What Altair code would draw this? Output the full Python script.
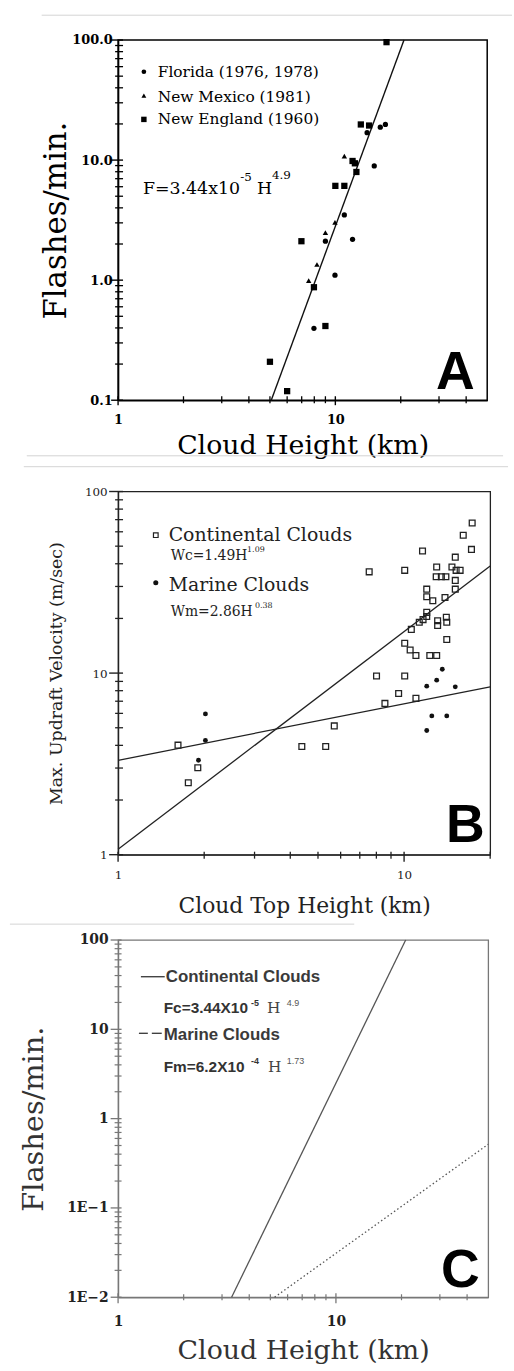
import altair as alt
import pandas as pd

# ---------------- Panel A data (Flashes/min vs cloud height) ----------------
fl_h = [17.0, 16.1, 14.0, 15.1, 11.0, 12.0, 9.0, 9.96, 7.97]
fl_f = [19.8, 18.8, 16.9, 8.94, 3.49, 2.19, 2.11, 1.10, 0.397]
nm_h = [11.0, 9.96, 9.0, 8.23, 7.54]
nm_f = [10.8, 3.03, 2.49, 1.35, 0.99]
ne_h = [17.2, 13.1, 14.3, 12.0, 12.3, 12.5, 10.0, 11.0, 6.98, 7.97, 9.0, 5.0, 6.0]
ne_f = [96.0, 19.8, 19.4, 9.83, 9.4, 7.96, 6.1, 6.1, 2.11, 0.873, 0.415, 0.209, 0.119]
fitA_h = [5.07, 20.7]
fitA_f = [0.1, 100.0]
seriesA = ["Florida (1976, 1978)", "New Mexico (1981)", "New England (1960)"]

# ---------------- Panel B data (updraft velocity vs cloud top height) -------
cont_h = [17.3, 16.1, 17.2, 11.6, 15.1, 13.0, 14.7, 15.2, 15.7, 7.55, 10.05, 12.95,
          13.5, 14.0, 15.1, 12.0, 15.1, 12.0, 12.6, 13.9, 12.0, 12.0, 11.65, 11.3,
          10.6, 13.1, 13.1, 14.05, 14.1, 14.1, 10.05, 10.5, 11.0, 12.3, 13.0, 8.01,
          10.05, 9.57, 11.0, 8.57, 5.70, 4.39, 5.32, 1.62, 1.90, 1.76]
cont_w = [67.1, 57.4, 48.0, 47.0, 43.5, 38.4, 38.4, 36.8, 36.8, 36.1, 36.8, 33.9,
          33.9, 33.9, 32.4, 29.0, 29.0, 26.3, 25.0, 26.1, 21.6, 20.5, 19.7, 19.05,
          17.4, 19.4, 18.3, 20.3, 19.05, 15.3, 14.6, 13.4, 12.5, 12.5, 12.5, 9.64,
          9.64, 7.72, 7.26, 6.81, 5.12, 3.94, 3.94, 4.01, 3.01, 2.49]
mar_h = [2.02, 2.02, 1.91, 13.6, 13.0, 12.0, 15.1, 12.5, 14.1, 12.0]
mar_w = [5.96, 4.26, 3.31, 10.5, 9.14, 8.47, 8.40, 5.81, 5.81, 4.83]
fitBc_h = [1.0, 20.0]
fitBc_w = [1.07, 38.9]
fitBm_h = [1.0, 20.0]
fitBm_w = [3.31, 8.4]

# ---------------- Panel C data (fitted relations) ---------------------------
fitCc_h = [3.32, 20.9]
fitCc_f = [0.01, 100.0]
fitCm_h = [5.23, 50.0]
fitCm_f = [0.01, 0.516]

SERIF = "DejaVu Serif"
SANS = "Liberation Sans"
one = pd.DataFrame({"k": [0]})


def df(h, v):
    return pd.DataFrame({"h": h, "v": v})


def log_ticks(decades, top=None, minor_only=False):
    out = []
    for d in decades:
        for m in range(1, 10):
            if minor_only and m == 1:
                continue
            out.append(float(round(m * 10 ** d, 10)))
    if top is not None and not minor_only:
        out.append(float(top))
    return out


def label_expr(mapping):
    parts = ""
    for k, s in mapping.items():
        parts += f"datum.value == {k} ? '{s}' : "
    return parts + "''"


def txt(s, x, y, size, font=SERIF, color="black", weight="normal",
        align="left", baseline="alphabetic"):
    return alt.Chart(one).mark_text(
        text=s, align=align, baseline=baseline, font=font, fontSize=size,
        fontWeight=weight, color=color
    ).encode(x=alt.value(x), y=alt.value(y))


def hrule(x1, x2, y, color="#d4d4d4", width=1.0):
    return alt.Chart(one).mark_rule(color=color, strokeWidth=width).encode(
        x=alt.value(x1), x2=alt.value(x2), y=alt.value(y))


def sym(shape, x, y, size, color="black", filled=True, sw=1.2):
    return alt.Chart(one).mark_point(
        shape=shape, filled=filled, size=size, color=color, opacity=1,
        strokeWidth=sw
    ).encode(x=alt.value(x), y=alt.value(y))


def yticks(vals, ydef, xc, length, color, width):
    return alt.Chart(pd.DataFrame({"v": [float(v) for v in vals]})).mark_tick(
        orient="horizontal", size=length, thickness=width, color=color, opacity=1
    ).encode(y=ydef, x=alt.value(xc))


def xticks(vals, xdef, y1, y2, color, width):
    return alt.Chart(pd.DataFrame({"h": [float(v) for v in vals]})).mark_rule(
        color=color, strokeWidth=width).encode(x=xdef, y=alt.value(y1), y2=alt.value(y2))


# ============================ Panel A ============================
WA, HA = 372, 363
ax_common = dict(grid=False, ticks=False, labelFont=SERIF, titleFont=SERIF,
                 labelColor="black", titleColor="black", domainColor="black",
                 labelOverlap=False, labelFlush=False, titleFontWeight="normal")
xA = alt.X("h:Q", scale=alt.Scale(type="log", domain=[1, 50], nice=False),
           axis=alt.Axis(values=log_ticks([0]) + [10.0, 20.0, 30.0, 40.0, 50.0],
                         labelExpr=label_expr({1: "1", 10: "10"}),
                         title="Cloud Height (km)", titleFontSize=27,
                         titleY=46, titleBaseline="middle",
                         labelFontSize=13, labelFontWeight="bold",
                         labelPadding=13, domainWidth=1.5, **ax_common))
yA = alt.Y("v:Q", scale=alt.Scale(type="log", domain=[0.1, 100], nice=False),
           axis=alt.Axis(values=log_ticks([-1, 0, 1], 100),
                         labelExpr=label_expr({0.1: "0.1", 1: "1.0", 10: "10.0", 100: "100.0"}),
                         title="Flashes/min.", titleFontSize=31,
                         titleX=-62, titleBaseline="middle",
                         labelFontSize=13, labelFontWeight="bold",
                         labelPadding=6, domainWidth=1.5, **ax_common))

lineA = alt.Chart(df(fitA_h, fitA_f)).mark_line(color="#111", strokeWidth=1.4).encode(x=xA, y=yA)
ptsFl = alt.Chart(df(fl_h, fl_f)).mark_point(shape="circle", filled=True, size=28,
                                             color="black", opacity=1).encode(x=xA, y=yA)
ptsNm = alt.Chart(df(nm_h, nm_f)).mark_point(shape="triangle-up", filled=True, size=30,
                                             color="black", opacity=1).encode(x=xA, y=yA)
ptsNe = alt.Chart(df(ne_h, ne_f)).mark_point(shape="square", filled=True, size=40,
                                             color="black", opacity=1).encode(x=xA, y=yA)

panelA = alt.layer(
    hrule(-77, 397, -25), hrule(-92, 388, 419),
    lineA, ptsFl, ptsNm, ptsNe,
    yticks(log_ticks([-1, 0, 1], minor_only=True), yA, 1, 8, "black", 1.3),
    yticks([0.1, 1, 10, 100], yA, -1, 12, "black", 1.4),
    xticks([2, 3, 4, 5, 6, 7, 8, 9, 20, 30, 40], xA, HA - 4, HA + 3, "black", 1.3),
    xticks([1, 10], xA, HA - 4, HA + 5, "black", 1.4),
    sym("circle", 26, 32, 22), sym("triangle-up", 26, 56, 24), sym("square", 26, 80, 30),
    txt(seriesA[0], 40, 37, 15.5), txt(seriesA[1], 40, 62, 15.5), txt(seriesA[2], 40, 85, 15.5),
    txt("F=3.44x10", 25, 155, 17.5), txt("-5", 123, 142, 12),
    txt("H", 140, 155, 17.5), txt("4.9", 155, 140, 12),
    txt("A", 340, 336, 54, font=SANS, weight="bold", align="center", baseline="middle"),
).properties(width=WA, height=HA,
             view=alt.ViewBackground(stroke="black", strokeWidth=1.5))

# ============================ Panel B ============================
WB, HB = 375, 366
axB = dict(grid=False, ticks=False, labelFont=SERIF, titleFont=SERIF,
           labelColor="#222", titleColor="#222", domainColor="#222",
           labelOverlap=False, labelFlush=False, titleFontWeight="normal")
xB = alt.X("h:Q", scale=alt.Scale(type="log", domain=[1, 20], nice=False),
           axis=alt.Axis(values=log_ticks([0]) + [10.0, 20.0],
                         labelExpr=label_expr({1: "1", 10: "10"}),
                         title="Cloud Top Height (km)", titleFontSize=22,
                         titleY=51, titleBaseline="middle",
                         labelFontSize=12, labelPadding=15,
                         domainWidth=1.3, **axB))
yB = alt.Y("v:Q", scale=alt.Scale(type="log", domain=[1, 100], nice=False),
           axis=alt.Axis(values=log_ticks([0, 1], 100),
                         labelExpr=label_expr({1: "1", 10: "10", 100: "100"}),
                         title="Max. Updraft Velocity (m/sec)", titleFontSize=17.5,
                         titleX=-62, titleBaseline="middle",
                         labelFontSize=12, labelPadding=11,
                         domainWidth=1.3, **axB))

lineBc = alt.Chart(df(fitBc_h, fitBc_w)).mark_line(color="#222", strokeWidth=1.3).encode(x=xB, y=yB)
lineBm = alt.Chart(df(fitBm_h, fitBm_w)).mark_line(color="#222", strokeWidth=1.3).encode(x=xB, y=yB)
ptsC = alt.Chart(df(cont_h, cont_w)).mark_point(shape="square", filled=False, size=34,
                                                color="#222", strokeWidth=1.3,
                                                opacity=1).encode(x=xB, y=yB)
ptsM = alt.Chart(df(mar_h, mar_w)).mark_point(shape="circle", filled=True, size=24,
                                              color="#111", opacity=1).encode(x=xB, y=yB)

panelB = alt.layer(
    hrule(-95, 393, -25),
    lineBc, lineBm, ptsC, ptsM,
    yticks(log_ticks([0, 1], minor_only=True), yB, 1, 8, "#222", 1.3),
    yticks([1, 10, 100], yB, -2, 14, "#222", 1.4),
    xticks([2, 3, 4, 5, 6, 7, 8, 9, 20], xB, HB - 3, HB + 4, "#222", 1.3),
    xticks([1, 10], xB, HB - 3, HB + 7, "#222", 1.4),
    sym("square", 38, 44, 22, color="#222", filled=False),
    txt("Continental Clouds", 51, 50, 19, color="#222"),
    txt("Wc=1.49H", 53, 69, 14, color="#222"), txt("1.09", 130, 61, 8, color="#222"),
    sym("circle", 38, 92, 26, color="#111"),
    txt("Marine Clouds", 51, 100, 19, color="#222"),
    txt("Wm=2.86H", 53, 125, 14, color="#222"), txt("0.38", 138, 117, 8, color="#222"),
    txt("B", 350, 337, 54, font=SANS, weight="bold", align="center", baseline="middle"),
).properties(width=WB, height=HB,
             view=alt.ViewBackground(stroke="#222", strokeWidth=1.3))

# ============================ Panel C ============================
WC, HC = 373, 360
GRAY = "#555"
axC = dict(grid=False, ticks=False, labelFont=SERIF, titleFont=SERIF,
           labelColor="#222", titleColor="#333", domainColor="#777",
           labelOverlap=False, labelFlush=False, titleFontWeight="normal")
xC = alt.X("h:Q", scale=alt.Scale(type="log", domain=[1, 50], nice=False),
           axis=alt.Axis(values=log_ticks([0]) + [10.0, 20.0, 30.0, 40.0, 50.0],
                         labelExpr=label_expr({1: "1", 10: "10"}),
                         title="Cloud Height (km)", titleFontSize=27,
                         titleY=54, titleBaseline="middle",
                         labelFontSize=14, labelFontWeight="bold",
                         labelPadding=17, domainWidth=1.3, **axC))
yC = alt.Y("v:Q", scale=alt.Scale(type="log", domain=[0.01, 100], nice=False),
           axis=alt.Axis(values=log_ticks([-2, -1, 0, 1], 100),
                         labelExpr=label_expr({0.01: "1E−2", 0.1: "1E−1", 1: "1", 10: "10", 100: "100"}),
                         title="Flashes/min.", titleFontSize=29,
                         titleX=-85, titleBaseline="middle",
                         labelFontSize=14, labelFontWeight="bold",
                         labelPadding=10, domainWidth=1.3, **axC))

lineCc = alt.Chart(df(fitCc_h, fitCc_f)).mark_line(color=GRAY, strokeWidth=1.3).encode(x=xC, y=yC)
lineCm = alt.Chart(df(fitCm_h, fitCm_f)).mark_line(color=GRAY, strokeWidth=1.3,
                                                    strokeDash=[1.5, 2.5]).encode(x=xC, y=yC)

panelC = alt.layer(
    hrule(-109, 238, -16),
    lineCc, lineCm,
    yticks(log_ticks([-2, -1, 0, 1], minor_only=True), yC, 0, 7, "#777", 1.2),
    yticks([0.01, 0.1, 1, 10, 100], yC, -2, 11, "#777", 1.3),
    xticks([2, 3, 4, 5, 6, 7, 8, 9, 20, 30, 40], xC, HC - 3, HC + 3, "#777", 1.2),
    xticks([1, 10], xC, HC - 4, HC + 6, "#777", 1.3),
    hrule(23, 47, 37, color="#333", width=1.3),
    txt("Continental Clouds", 48, 42, 17, font=SANS, weight="bold", color="#3a3a3a"),
    txt("Fc=3.44X10", 46, 74, 15.5, font=SANS, weight="bold", color="#333"),
    txt("-5", 134, 67, 9, font=SANS, weight="bold", color="#333"),
    txt("H", 150, 74, 15.5, font=SERIF, color="#444"),
    txt("4.9", 170, 66, 9, font=SANS, color="#555"),
    hrule(21, 30, 94, color="#333", width=1.3), hrule(34, 44, 94, color="#333", width=1.3),
    txt("Marine Clouds", 46, 101, 17, font=SANS, weight="bold", color="#3a3a3a"),
    txt("Fm=6.2X10", 46, 133, 15.5, font=SANS, weight="bold", color="#333"),
    txt("-4", 134, 125, 9, font=SANS, weight="bold", color="#333"),
    txt("H", 151, 133, 15.5, font=SERIF, color="#444"),
    txt("1.73", 170, 125, 9, font=SANS, color="#555"),
    txt("C", 345, 334, 54, font=SANS, weight="bold", align="center", baseline="middle"),
).properties(width=WC, height=HC,
             view=alt.ViewBackground(stroke="#777", strokeWidth=1.3))

chart = alt.vconcat(panelA, panelB, panelC, spacing=5).properties(
    padding={"left": 8, "top": 8, "right": 0, "bottom": 0},
    background="white",
)

chart.save("out.html", embed_options={"renderer": "svg", "actions": False})
